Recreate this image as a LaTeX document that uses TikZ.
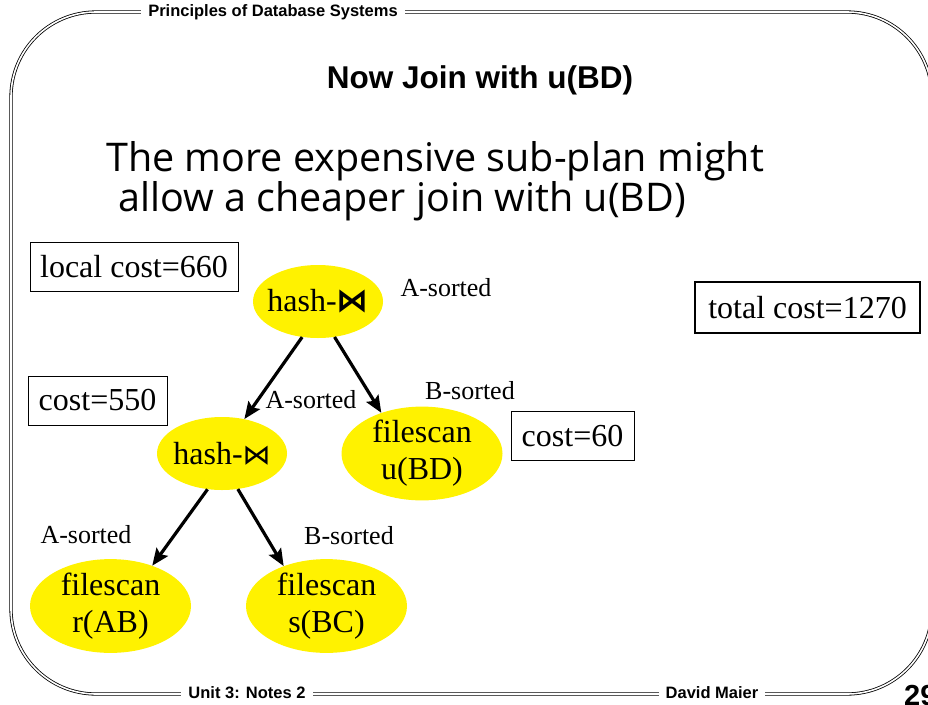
\documentclass[tikz,border=0pt]{standalone}
\usepackage{fontspec}
\setmainfont{Liberation Serif}
\newfontfamily\arialfont{Liberation Sans}
\newfontfamily\handfont{Open Sans}
\newfontfamily\symfont{DejaVu Sans}
\usetikzlibrary{shapes.geometric,arrows.meta}
\definecolor{planyellow}{RGB}{255,242,0}

\begin{document}
\begin{tikzpicture}[x=1pt,y=-1pt,
    costbox/.style={draw,line width=1pt,minimum height=49pt,inner xsep=10pt,
      font=\fontsize{32}{37}\selectfont},
    plan/.style={ellipse,fill=planyellow,inner sep=0pt,align=center,
      font=\fontsize{32}{37}\selectfont},
    joinplan/.style={plan,inner xsep=-16pt,inner ysep=-6pt,minimum width=130pt,minimum height=73pt},
    sortlbl/.style={font=\fontsize{26}{30}\selectfont},
    planarrow/.style={line width=3.2pt,-{Stealth[length=17pt,width=14pt,inset=3pt]}},
    band/.style={fill=white,inner xsep=7pt,font=\arialfont\bfseries\fontsize{16.5}{19}\selectfont}]
  \useasboundingbox (0,0) rectangle (928,704);

  % slide frame
  \draw[double,line width=0.8pt,double distance=1.6pt,rounded corners=85pt] (11,12) rectangle (932,694);
  \node[band] (head) at (273,12) {Principles of Database Systems};
  \node[band] (unit) at (247,693) {Unit 3: Notes 2};
  \node[band] (author) at (712,693) {David Maier};
  \node[anchor=base west,inner sep=0pt,font=\arialfont\bfseries\fontsize{29}{32}\selectfont] (page) at (904,705) {29};

  \node[font=\arialfont\bfseries\fontsize{31.5}{36}\selectfont] (title) at (480,80) {Now Join with u(BD)};
  \node[anchor=base west,inner sep=0pt,font=\handfont\fontsize{39.5}{44}\selectfont] (line1) at (106,171) {The more expensive sub-plan might};
  \node[anchor=base west,inner sep=0pt,font=\handfont\fontsize{39.5}{44}\selectfont] (line2) at (118,211) {allow a cheaper join with u(BD)};

  % plan tree
  \node[joinplan] (hjtop) at (318,301.5) {hash-{\symfont\bfseries\fontsize{32}{37}\selectfont ⋈}};
  \node[joinplan] (hjmid) at (222,453.5) {hash-{\symfont\fontsize{28}{37}\selectfont ⋈}};
  \node[plan,minimum width=161pt,minimum height=89pt] (scanu) at (422,453.5) {filescan\\u(BD)};
  \node[plan,minimum width=161pt,minimum height=88pt] (scanr) at (110.5,606) {filescan\\r(AB)};
  \node[plan,minimum width=161pt,minimum height=88pt] (scans) at (326.5,606) {filescan\\s(BC)};

  \draw[planarrow] (hjtop.246) -- (hjmid.57);
  \draw[planarrow] (hjtop.295) -- (scanu.135);
  \draw[planarrow] (hjmid.248) -- (scanr.44);
  \draw[planarrow] (hjmid.294) -- (scans.137);

  \node[sortlbl] (srttop) at (446,288) {A-sorted};
  \node[sortlbl] (srtmid) at (311,400) {A-sorted};
  \node[sortlbl] (srtu) at (470,391) {B-sorted};
  \node[sortlbl] (srtr) at (86,535) {A-sorted};
  \node[sortlbl] (srts) at (349,536) {B-sorted};

  % costs
  \node[costbox,minimum width=208pt] (localcost) at (134,266.5) {local cost=660};
  \node[costbox,minimum width=139pt] (cost550) at (97.5,400.5) {cost=550};
  \node[costbox,minimum width=123pt] (cost60) at (572.5,436) {cost=60};
  \node[costbox,line width=2pt,minimum width=225pt,minimum height=51pt] (totalcost) at (807.5,307.5) {total cost=1270};
\end{tikzpicture}
\end{document}
